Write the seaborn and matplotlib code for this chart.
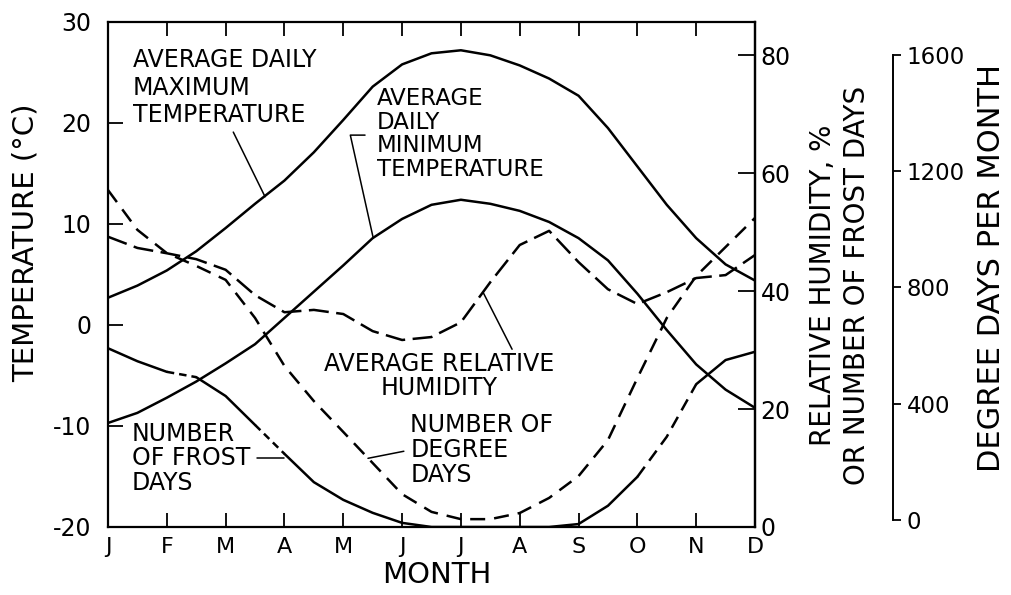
import numpy as np
import pandas as pd
import seaborn as sns
from matplotlib import pyplot as plt

# x axis: one reading every half month, from the start of J to D
months = ["J", "F", "M", "A", "M", "J", "J", "A", "S", "O", "N", "D"]
half_months = np.arange(23) / 2

# temperature, deg C (left axis)
max_temp = [2.7, 3.9, 5.4, 7.3, 9.6, 12.0, 14.3, 17.1, 20.3, 23.6, 25.8, 26.9,
            27.2, 26.7, 25.7, 24.4, 22.7, 19.5, 15.7, 11.9, 8.6, 6.0, 4.4]
min_temp = [-9.7, -8.7, -7.2, -5.6, -3.8, -1.9, 0.7, 3.3, 5.9, 8.6, 10.5, 11.9,
            12.4, 12.0, 11.3, 10.2, 8.6, 6.4, 3.1, -0.5, -3.9, -6.4, -8.2]

# relative humidity % and frost days (first right axis)
humidity = [49.2, 47.3, 46.4, 45.4, 43.6, 39.3, 36.4, 36.8, 36.1, 33.2, 31.7, 32.2,
            34.7, 41.5, 47.8, 50.2, 44.9, 40.3, 37.8, 39.8, 42.2, 42.7, 46.1]
frost_days = [30.3, 28.1, 26.3, 25.4, 22.2, 17.3, 12.4, 7.6, 4.6, 2.4, 0.7, 0.0,
              0.0, 0.0, 0.0, 0.0, 0.5, 3.6, 8.5, 15.3, 24.2, 28.3, 29.7]

# degree days per month (second right axis)
degree_days = [1135, 998, 918, 874, 826, 695, 530, 409, 303, 196, 89, 28,
               3, 3, 24, 76, 151, 275, 488, 695, 839, 939, 1039]

temp_ticks = [-20, -10, 0, 10, 20, 30]
humidity_ticks = [0, 20, 40, 60, 80]
degree_day_ticks = [0, 400, 800, 1200, 1600]

sns.set_theme(style="ticks")
plt.rcParams["font.family"] = ["DejaVu Sans"]
plt.rcParams["axes.unicode_minus"] = False
plt.rcParams["axes.edgecolor"] = "black"
plt.rcParams["xtick.color"] = "black"
plt.rcParams["ytick.color"] = "black"
plt.rcParams["text.color"] = "black"
plt.rcParams["axes.labelcolor"] = "black"

df = pd.DataFrame({"month": half_months, "max_temp": max_temp, "min_temp": min_temp,
                   "humidity": humidity, "frost": frost_days, "degree_days": degree_days})

fig = plt.figure(figsize=(10.11, 5.95), dpi=100)
ax = fig.add_axes([0.10682, 0.11429, 0.63996, 0.84874])
ax2 = ax.twinx()
ax3 = ax.twinx()

line_kw = dict(color="black", lw=1.8, errorbar=None)

sns.lineplot(data=df, x="month", y="max_temp", ax=ax, **line_kw)
sns.lineplot(data=df, x="month", y="min_temp", ax=ax, **line_kw)
sns.lineplot(data=df, x="month", y="humidity", ax=ax2, linestyle=(0, (8, 3)), **line_kw)

# frost days curve is drawn partly dashed
frost_segments = [(0, 2, "-"), (2, 3, (0, (3, 2))), (3, 5, "-"), (5, 6, (0, (3, 2))),
                  (6, 18, "-"), (18, 20, (0, (5, 3))), (20, 22, "-")]
for start, stop, ls in frost_segments:
    sns.lineplot(data=df.iloc[start:stop + 1], x="month", y="frost", ax=ax2,
                 linestyle=ls, **line_kw)

sns.lineplot(data=df, x="month", y="degree_days", ax=ax3, linestyle=(0, (6, 3.6)), **line_kw)

# main axes
ax.set_xlim(0, 11)
ax.set_ylim(-20, 30)
ax.set_xticks(range(12))
ax.set_xticklabels(months)
ax.set_yticks(temp_ticks)
ax.tick_params(axis="x", direction="in", length=10, width=1.3, top=True,
               labelsize=16, pad=7)
ax.tick_params(axis="y", direction="in", length=11, width=1.3, labelsize=17, pad=12)
for s in ax.spines.values():
    s.set_linewidth(1.6)
ax.set_xlabel("MONTH", fontsize=21, va="center")
ax.xaxis.set_label_coords(0.508, -0.095)
ax.set_ylabel("TEMPERATURE (°C)", fontsize=21, va="center")
ax.yaxis.set_label_coords(-0.127, 0.562)

# humidity / frost axis
ax2.set_ylim(0, 85.6)
ax2.set_yticks(humidity_ticks)
ax2.tick_params(axis="y", direction="in", length=12, width=1.3, labelsize=17, pad=4)
for side in ["left", "top", "bottom"]:
    ax2.spines[side].set_visible(False)
ax2.spines["right"].set_linewidth(1.6)
ax2.set_ylabel("RELATIVE HUMIDITY, %\nOR NUMBER OF FROST DAYS", fontsize=20,
               linespacing=1.26, va="center", multialignment="center")
ax2.yaxis.set_label_coords(1.131, 0.479)

# degree days axis, offset to the right
ax3.set_ylim(-24, 1713)
ax3.set_yticks(degree_day_ticks)
ax3.spines["right"].set_position(("axes", 1.213))
ax3.spines["right"].set_bounds(0, 1600)
ax3.spines["right"].set_linewidth(1.4)
for side in ["left", "top", "bottom"]:
    ax3.spines[side].set_visible(False)
ax3.tick_params(axis="y", direction="out", length=6, width=1.3, labelsize=16.5, pad=4)
ax3.set_ylabel("DEGREE DAYS PER MONTH", fontsize=22, va="center")
ax3.yaxis.set_label_coords(1.366, 0.513)

# curve labels and leader lines
lab = dict(fontsize=17, va="top")
ax.text(0.42, 27.4, "AVERAGE DAILY\nMAXIMUM\nTEMPERATURE", linespacing=1.19, **lab)
ax.plot([2.13, 2.67], [19.1, 12.7], color="black", lw=1.1)

ax.text(4.57, 23.6, "AVERAGE\nDAILY\nMINIMUM\nTEMPERATURE", linespacing=1.05,
        fontsize=16.5, va="top")
ax.plot([4.37, 4.12, 4.51], [18.8, 18.8, 8.6], color="black", lw=1.1)

ax.text(5.63, -2.7, "AVERAGE RELATIVE\nHUMIDITY", ha="center", multialignment="center",
        linespacing=1.0, **lab)
ax.plot([6.38, 6.87], [3.2, -2.4], color="black", lw=1.1)

ax.text(5.14, -8.7, "NUMBER OF\nDEGREE\nDAYS", linespacing=1.06, **lab)
ax.plot([5.03, 4.42], [-12.5, -13.2], color="black", lw=1.1)

ax.text(0.41, -9.6, "NUMBER\nOF FROST\nDAYS", linespacing=1.02, **lab)
ax.plot([2.53, 2.99], [-13.2, -13.2], color="black", lw=1.1)

fig.savefig("out.png", dpi=100)
